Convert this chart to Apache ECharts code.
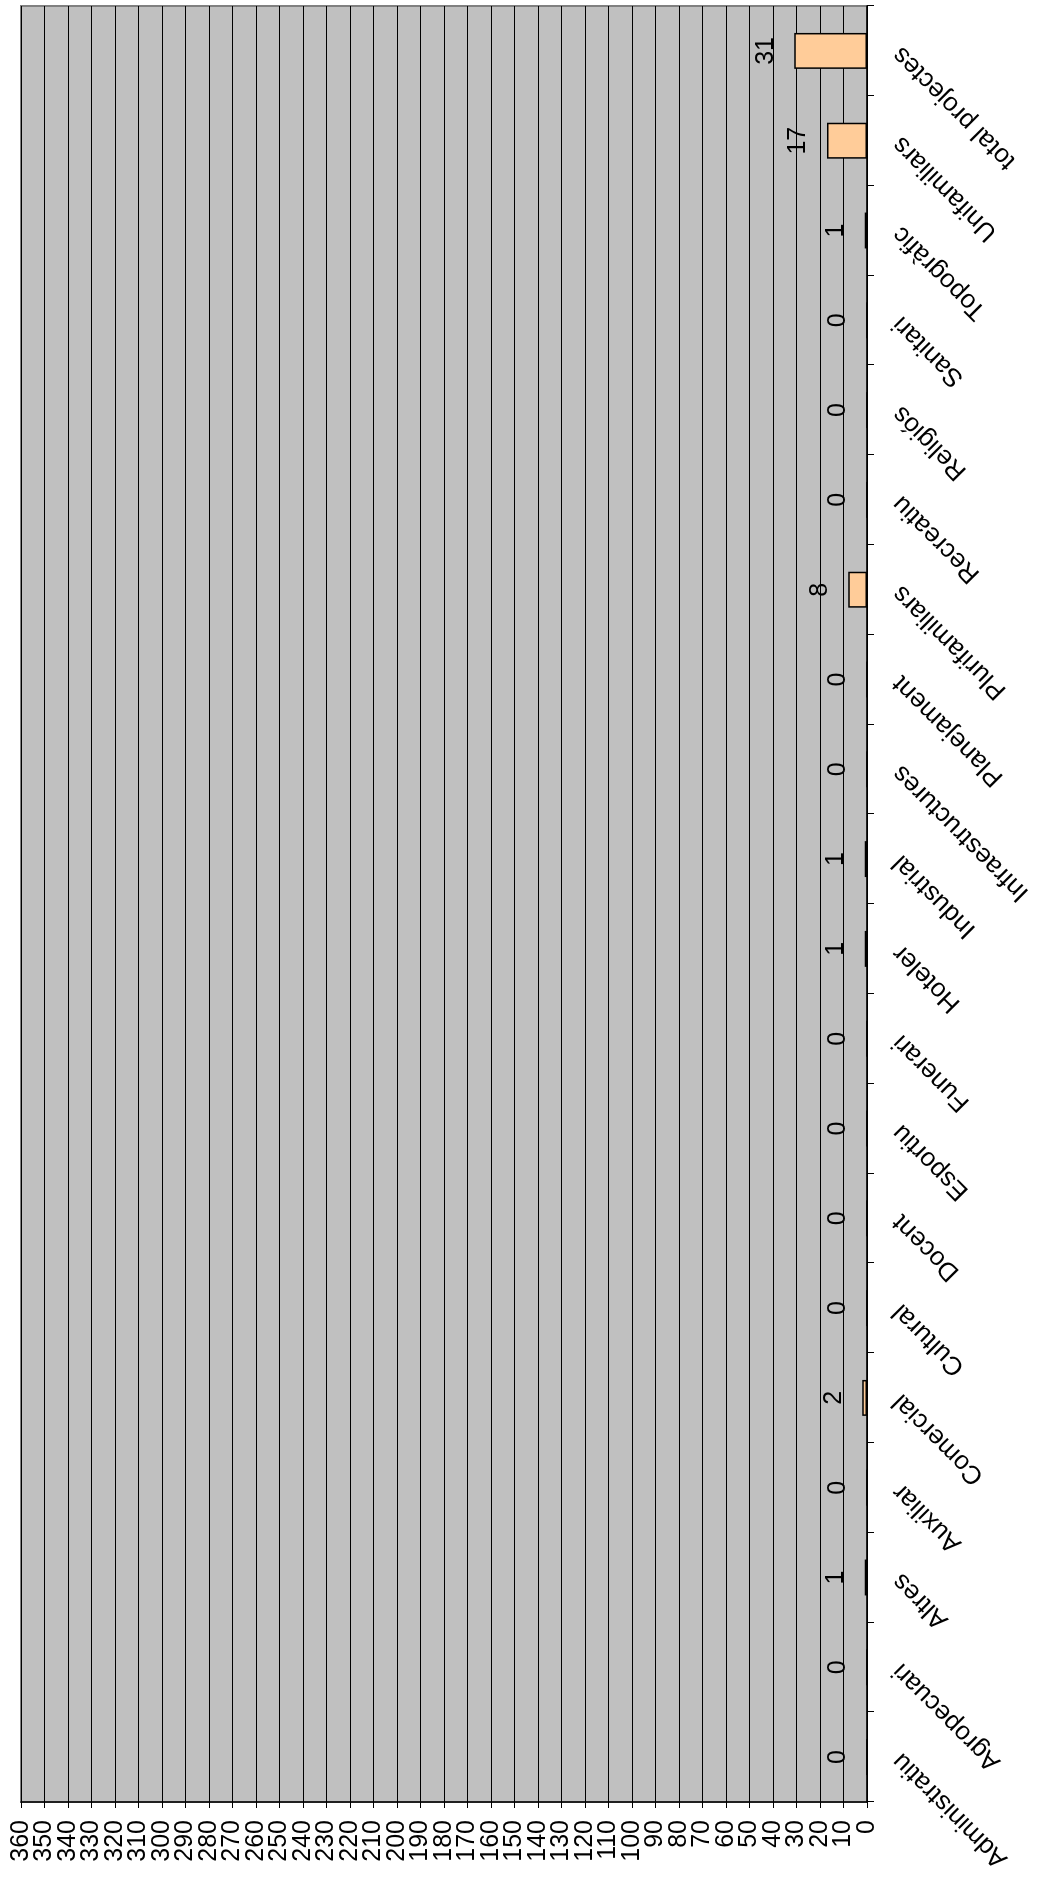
<!DOCTYPE html>
<html>
<head>
<meta charset="utf-8">
<script src="https://cdn.jsdelivr.net/npm/echarts@6/dist/echarts.min.js"></script>
<style>
html,body{margin:0;padding:0;width:1042px;height:1892px;overflow:hidden;background:#fff;}
#chart{position:absolute;left:0;top:0;width:1892px;height:1042px;transform-origin:0 0;transform:translateY(1892px) rotate(-90deg);}
</style>
</head>
<body>
<div id="chart"></div>
<script>
const categories = ["Administratiu","Agropecuari","Altres","Auxiliar","Comercial","Cultural","Docent","Esportiu","Funerari","Hoteler","Industrial","Infraestructures","Planejament","Plurifamiliars","Recreatiu","Religiós","Sanitari","Topogràfic","Unifamiliars","total projectes"];
const values = [0,0,1,0,2,0,0,0,0,1,1,0,0,8,0,0,0,1,17,31];
const axisMin = 0, axisMax = 360, axisStep = 10;

const chart = echarts.init(document.getElementById('chart'), null, {renderer:'canvas'});
const font = '"Liberation Sans", Arial, sans-serif';
const labelBase = {fontSize: 25, color: '#000', fontFamily: font, margin: 18, showMinLabel: true, showMaxLabel: true, hideOverlap: false};
chart.setOption({
  animation: false,
  textStyle: {fontFamily: font},
  grid: {left: 90, right: 6, top: 21, bottom: 175, show: true, backgroundColor: '#C0C0C0', borderColor: '#808080', borderWidth: 2},
  xAxis: {
    type: 'category', data: categories,
    axisLine: {lineStyle: {color: '#000', width: 1.5}},
    axisTick: {show: true, length: 7, lineStyle: {color: '#000', width: 1}},
    axisLabel: {rotate: 45, interval: 0, fontSize: 26, color: '#000', fontFamily: font, margin: 30}
  },
  yAxis: [{
    type: 'value', min: axisMin, max: axisMax, interval: axisStep, position: 'left',
    axisLine: {show: true, lineStyle: {color: '#000', width: 1.5}},
    axisTick: {show: true, length: 6, lineStyle: {color: '#000', width: 1}},
    splitLine: {show: true, lineStyle: {color: '#000', width: 1}},
    axisLabel: Object.assign({}, labelBase, {formatter: v => (Math.round(v / axisStep) % 2 === 0 ? String(v) : '')})
  }, {
    type: 'value', min: axisMin, max: axisMax, interval: axisStep, position: 'left', offset: 0,
    axisLine: {show: false}, axisTick: {show: false}, splitLine: {show: false},
    axisLabel: Object.assign({}, labelBase, {formatter: v => (Math.round(v / axisStep) % 2 === 1 ? String(v) : '')})
  }],
  series: [{
    type: 'bar', data: values, barWidth: '40%', yAxisIndex: 0,
    itemStyle: {color: '#FFCC99', borderColor: '#000', borderWidth: 1.5},
    label: {show: true, position: 'top', distance: 16, fontSize: 25, color: '#000', fontFamily: font}
  }]
});
</script>
</body>
</html>
